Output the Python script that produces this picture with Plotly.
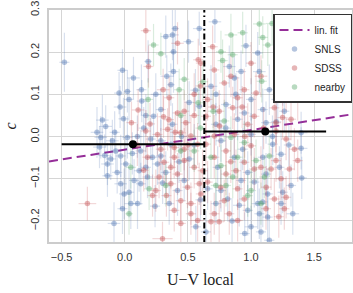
import plotly.graph_objects as go

# ---- data (x, y, x_err, y_err) ----
snls = [
    (0.325, 0.237, 0.04, 0.05), (0.378, 0.241, 0.05, 0.06), (0.40, 0.256, 0.03, 0.05),
    (0.505, 0.225, 0.04, 0.05), (0.386, 0.201, 0.03, 0.06), (0.59, 0.256, 0.05, 0.04),
    (0.185, 0.178, 0.03, 0.05), (-0.018, 0.157, 0.04, 0.05), (0.069, 0.139, 0.05, 0.05),
    (0.386, 0.154, 0.04, 0.05), (0.333, 0.143, 0.05, 0.05), (0.365, 0.123, 0.03, 0.05),
    (0.132, 0.111, 0.04, 0.06), (-0.045, 0.103, 0.04, 0.05), (0.021, 0.107, 0.03, 0.05),
    (0.034, 0.088, 0.04, 0.05), (0.246, 0.100, 0.04, 0.05), (0.135, 0.084, 0.04, 0.05),
    (-0.037, 0.070, 0.05, 0.05), (0.51, 0.081, 0.04, 0.05), (0.59, 0.072, 0.03, 0.05),
    (0.286, 0.064, 0.04, 0.05), (0.228, 0.048, 0.03, 0.05), (0.167, 0.050, 0.04, 0.05),
    (-0.177, 0.039, 0.05, 0.06), (-0.151, 0.024, 0.05, 0.05), (-0.01, 0.042, 0.04, 0.05),
    (0.378, 0.029, 0.04, 0.05), (0.714, 0.272, 0.05, 0.05), (0.96, 0.215, 0.04, 0.05),
    (1.053, 0.198, 0.04, 0.05), (0.828, 0.166, 0.05, 0.05), (0.921, 0.154, 0.04, 0.05),
    (1.066, 0.154, 0.05, 0.05), (1.238, 0.147, 0.04, 0.05), (0.868, 0.139, 0.04, 0.05),
    (0.683, 0.119, 0.05, 0.05), (1.251, 0.123, 0.04, 0.05), (1.145, 0.111, 0.04, 0.06),
    (0.722, 0.100, 0.04, 0.05), (1.0, 0.088, 0.04, 0.05), (1.212, 0.088, 0.05, 0.05),
    (0.802, 0.076, 0.04, 0.05), (1.093, 0.064, 0.04, 0.05), (0.947, 0.056, 0.04, 0.05),
    (1.264, 0.060, 0.04, 0.05), (0.894, 0.041, 0.04, 0.05), (1.119, 0.033, 0.04, 0.05),
    (0.722, 0.029, 0.04, 0.05), (-0.478, 0.176, 0.04, 0.07), (-0.098, -0.010, 0.05, 0.05),
    (-0.19, -0.002, 0.05, 0.05), (-0.071, -0.034, 0.04, 0.05), (-0.032, -0.046, 0.04, 0.05),
    (-0.137, -0.065, 0.05, 0.05), (-0.111, -0.053, 0.04, 0.05), (0.008, -0.065, 0.04, 0.06),
    (-0.137, -0.093, 0.04, 0.05), (-0.032, -0.112, 0.05, 0.06), (-0.005, -0.136, 0.04, 0.06),
    (0.034, -0.132, 0.04, 0.06), (0.074, -0.104, 0.04, 0.05), (0.127, -0.112, 0.04, 0.05),
    (0.114, -0.081, 0.04, 0.05), (0.167, -0.073, 0.04, 0.05), (0.048, -0.159, 0.05, 0.06),
    (0.101, -0.159, 0.04, 0.06), (-0.018, -0.171, 0.04, 0.06), (-0.085, -0.206, 0.05, 0.05),
    (0.18, -0.096, 0.04, 0.05), (0.22, -0.049, 0.04, 0.05), (0.259, -0.065, 0.04, 0.05),
    (0.325, -0.085, 0.04, 0.05), (0.352, -0.159, 0.04, 0.05), (0.563, -0.214, 0.04, 0.05),
    (0.418, -0.128, 0.04, 0.06), (0.365, -0.018, 0.04, 0.05), (0.206, -0.006, 0.04, 0.05),
    (0.286, -0.010, 0.04, 0.05), (0.021, -0.002, 0.04, 0.05), (0.127, -0.034, 0.04, 0.05),
    (0.286, -0.046, 0.04, 0.05), (0.471, -0.104, 0.04, 0.05), (0.51, -0.053, 0.04, 0.05),
    (1.397, -0.028, 0.05, 0.05), (1.402, -0.098, 0.04, 0.05), (1.397, 0.009, 0.05, 0.05),
    (1.172, -0.018, 0.04, 0.05), (1.093, -0.049, 0.04, 0.05), (1.119, -0.089, 0.04, 0.05),
    (1.225, -0.073, 0.04, 0.05), (1.026, -0.108, 0.04, 0.06), (1.132, -0.136, 0.04, 0.06),
    (1.053, -0.159, 0.05, 0.06), (1.093, -0.155, 0.04, 0.06), (0.907, -0.163, 0.05, 0.05),
    (0.974, -0.175, 0.04, 0.06), (1.066, -0.183, 0.04, 0.06), (1.132, -0.191, 0.04, 0.06),
    (1.0, -0.214, 0.05, 0.05), (1.079, -0.226, 0.04, 0.06), (1.145, -0.246, 0.04, 0.06),
    (1.238, -0.159, 0.04, 0.05), (1.331, -0.183, 0.05, 0.05), (1.251, -0.132, 0.04, 0.05),
    (1.317, -0.116, 0.04, 0.05), (1.238, -0.042, 0.04, 0.05), (0.762, -0.128, 0.04, 0.05),
    (0.815, -0.148, 0.04, 0.05), (0.722, -0.159, 0.04, 0.05), (0.921, -0.104, 0.04, 0.05),
    (0.974, -0.085, 0.04, 0.05), (0.868, -0.049, 0.04, 0.05), (0.934, -0.030, 0.04, 0.05),
    (0.762, -0.010, 0.04, 0.05), (0.736, -0.073, 0.04, 0.05), (0.656, -0.124, 0.04, 0.05),
    (0.643, -0.226, 0.04, 0.05), (-0.20, -0.025, 0.05, 0.05), (-0.16, -0.045, 0.05, 0.05),
    (0.45, 0.000, 0.04, 0.05), (0.55, -0.020, 0.04, 0.05), (0.80, 0.020, 0.04, 0.05),
    (1.00, 0.005, 0.04, 0.05), (1.20, 0.035, 0.04, 0.05), (0.15, 0.020, 0.04, 0.05),
    (0.30, -0.110, 0.04, 0.05), (0.60, -0.150, 0.04, 0.05), (0.85, -0.200, 0.04, 0.05),
    (0.95, -0.230, 0.04, 0.05), (-0.22, 0.010, 0.05, 0.06), (-0.06, -0.085, 0.04, 0.05),
    (0.06, -0.040, 0.04, 0.05), (0.10, 0.000, 0.04, 0.05), (-0.08, 0.010, 0.04, 0.05),
    (0.24, -0.165, 0.04, 0.05), (0.43, -0.060, 0.04, 0.05), (0.56, 0.110, 0.04, 0.05),
    (0.88, 0.100, 0.04, 0.05), (1.17, 0.000, 0.04, 0.05), (1.30, -0.020, 0.04, 0.05),
]

sdss = [
    (0.167, 0.251, 0.04, 0.05), (0.418, 0.221, 0.05, 0.05), (0.582, 0.182, 0.04, 0.05),
    (0.603, 0.174, 0.04, 0.05), (0.188, 0.166, 0.04, 0.05), (0.304, 0.111, 0.05, 0.05),
    (0.352, 0.092, 0.04, 0.05), (0.106, 0.063, 0.05, 0.05), (0.471, 0.060, 0.04, 0.05),
    (0.418, 0.056, 0.04, 0.05), (0.307, 0.047, 0.04, 0.05), (0.053, 0.033, 0.04, 0.05),
    (0.484, 0.033, 0.04, 0.05), (0.696, 0.213, 0.04, 0.05), (1.0, 0.174, 0.04, 0.05),
    (0.709, 0.158, 0.04, 0.05), (1.079, 0.143, 0.05, 0.05), (0.841, 0.143, 0.04, 0.05),
    (0.788, 0.127, 0.04, 0.05), (1.278, 0.111, 0.05, 0.05), (0.947, 0.111, 0.04, 0.05),
    (1.04, 0.103, 0.04, 0.05), (0.656, 0.088, 0.04, 0.05), (0.894, 0.092, 0.04, 0.05),
    (1.37, 0.088, 0.05, 0.05), (0.855, 0.068, 0.04, 0.05), (1.185, 0.068, 0.04, 0.05),
    (0.748, 0.060, 0.04, 0.05), (0.643, 0.048, 0.04, 0.05), (1.026, 0.048, 0.04, 0.05),
    (1.317, 0.041, 0.04, 0.05), (0.974, 0.029, 0.04, 0.05), (1.198, 0.033, 0.04, 0.05),
    (-0.296, -0.159, 0.07, 0.04), (0.299, -0.242, 0.08, 0.04), (0.577, -0.199, 0.05, 0.05),
    (0.246, -0.128, 0.04, 0.05), (0.272, -0.096, 0.04, 0.05), (0.365, -0.112, 0.04, 0.05),
    (0.444, -0.152, 0.04, 0.05), (0.524, -0.159, 0.04, 0.05), (0.497, -0.120, 0.04, 0.05),
    (0.418, -0.089, 0.04, 0.05), (0.18, -0.049, 0.04, 0.05), (0.312, -0.061, 0.04, 0.05),
    (0.392, -0.049, 0.04, 0.05), (0.471, -0.057, 0.04, 0.05), (0.55, -0.073, 0.04, 0.05),
    (0.59, -0.112, 0.04, 0.05), (0.603, -0.136, 0.04, 0.05), (0.167, 0.013, 0.04, 0.05),
    (0.259, 0.005, 0.04, 0.05), (0.339, 0.017, 0.04, 0.05), (0.444, 0.009, 0.04, 0.05),
    (0.524, 0.001, 0.04, 0.05), (0.577, -0.018, 0.04, 0.05), (0.392, -0.026, 0.04, 0.05),
    (0.286, -0.030, 0.04, 0.05), (0.471, -0.030, 0.04, 0.05), (0.365, -0.073, 0.04, 0.05),
    (0.22, -0.140, 0.04, 0.05), (0.392, -0.175, 0.04, 0.05), (0.524, -0.183, 0.04, 0.05),
    (0.444, -0.206, 0.04, 0.05), (0.748, -0.202, 0.04, 0.05), (0.828, -0.183, 0.04, 0.05),
    (0.894, -0.199, 0.04, 0.05), (0.683, -0.202, 0.04, 0.05), (0.709, -0.183, 0.04, 0.05),
    (1.264, -0.171, 0.04, 0.05), (1.185, -0.148, 0.04, 0.05), (1.278, -0.144, 0.04, 0.05),
    (0.656, -0.108, 0.04, 0.05), (0.802, -0.089, 0.04, 0.05), (0.881, -0.081, 0.04, 0.05),
    (1.026, -0.077, 0.04, 0.05), (1.159, -0.077, 0.04, 0.05), (1.304, -0.077, 0.04, 0.05),
    (1.37, -0.057, 0.04, 0.05), (1.344, -0.030, 0.04, 0.05), (1.278, -0.006, 0.04, 0.05),
    (1.198, 0.013, 0.04, 0.05), (0.868, 0.005, 0.04, 0.05), (0.709, 0.001, 0.04, 0.05),
    (1.0, -0.022, 0.04, 0.05), (0.802, -0.034, 0.04, 0.05), (0.947, -0.061, 0.04, 0.05),
    (1.079, -0.073, 0.04, 0.05), (1.238, -0.100, 0.04, 0.05), (1.198, -0.057, 0.04, 0.05),
    (0.617, -0.081, 0.04, 0.05), (0.643, -0.018, 0.04, 0.05), (0.709, -0.049, 0.04, 0.05),
    (0.894, -0.124, 0.04, 0.05), (0.788, -0.152, 0.04, 0.05), (0.947, -0.148, 0.04, 0.05),
    (1.119, -0.171, 0.04, 0.05), (0.20, 0.030, 0.04, 0.05), (0.35, 0.040, 0.04, 0.05),
    (0.55, 0.050, 0.04, 0.05), (0.75, 0.025, 0.04, 0.05), (0.95, 0.000, 0.04, 0.05),
    (1.10, 0.020, 0.04, 0.05), (1.25, 0.045, 0.04, 0.05), (0.10, -0.020, 0.04, 0.05),
    (0.15, -0.080, 0.04, 0.05), (0.60, 0.120, 0.04, 0.05), (0.55, 0.100, 0.04, 0.05),
    (0.70, 0.070, 0.04, 0.05), (0.33, -0.140, 0.04, 0.05), (0.50, -0.020, 0.04, 0.05),
    (0.84, -0.060, 0.04, 0.05), (1.12, -0.120, 0.04, 0.05), (1.22, -0.190, 0.04, 0.05),
    (0.76, -0.120, 0.04, 0.05), (0.40, 0.010, 0.04, 0.05), (0.93, 0.070, 0.04, 0.05),
]

nearby = [
    (0.228, 0.217, 0.04, 0.05), (0.286, 0.196, 0.04, 0.05), (0.471, 0.136, 0.04, 0.05),
    (0.431, 0.111, 0.04, 0.05), (0.185, 0.088, 0.04, 0.05), (0.582, 0.080, 0.04, 0.05),
    (0.444, 0.050, 0.04, 0.05), (1.066, 0.267, 0.05, 0.05), (1.167, 0.268, 0.05, 0.05),
    (0.841, 0.241, 0.05, 0.05), (0.934, 0.246, 0.04, 0.05), (1.093, 0.235, 0.04, 0.05),
    (1.133, 0.217, 0.04, 0.05), (0.762, 0.201, 0.04, 0.05), (0.855, 0.194, 0.04, 0.05),
    (0.775, 0.180, 0.04, 0.05), (1.085, 0.131, 0.04, 0.05), (0.788, 0.037, 0.04, 0.05),
    (0.444, -0.034, 0.04, 0.05), (0.048, -0.073, 0.04, 0.05), (0.325, -0.116, 0.04, 0.05),
    (0.193, -0.124, 0.04, 0.05), (0.034, -0.183, 0.03, 0.05), (0.55, -0.034, 0.04, 0.05),
    (0.855, -0.096, 0.04, 0.05), (0.802, -0.116, 0.04, 0.05), (0.722, -0.116, 0.04, 0.05),
    (1.0, -0.128, 0.04, 0.05), (1.106, -0.096, 0.04, 0.05), (1.145, -0.046, 0.04, 0.05),
    (1.04, -0.057, 0.04, 0.05), (0.762, -0.069, 0.04, 0.05), (0.841, -0.002, 0.04, 0.05),
    (0.947, -0.014, 0.04, 0.05), (0.683, -0.049, 0.04, 0.05), (0.894, -0.049, 0.04, 0.05),
    (1.079, -0.159, 0.04, 0.05), (0.974, -0.140, 0.04, 0.05), (0.60, 0.020, 0.04, 0.05),
    (0.70, 0.060, 0.04, 0.05), (0.62, 0.130, 0.04, 0.05),
]

# binned means: centre, half-width, mean c
bin_x = [0.065, 1.113]
bin_xerr = [0.565, 0.482]
bin_y = [-0.018, 0.012]

split_x = 0.63
fit_slope = 0.0465
fit_intercept = -0.031
x_range = [-0.6, 1.8]
y_range = [-0.25, 0.3]
x_ticks = [-0.5, 0.0, 0.5, 1.0, 1.5]
y_ticks = [-0.2, -0.1, 0.0, 0.1, 0.2, 0.3]

series = [
    ("SNLS", snls, (76, 114, 176)),
    ("SDSS", sdss, (196, 78, 82)),
    ("nearby", nearby, (85, 168, 104)),
]

fig = go.Figure()

fig.add_trace(go.Scatter(
    x=x_range, y=[fit_slope * v + fit_intercept for v in x_range],
    mode="lines", name="lin. fit",
    line=dict(color="#952d98", width=2, dash="9px,5px"),
))

for name, pts, (r, g, b) in series:
    xs = [p[0] for p in pts]
    ys = [p[1] for p in pts]
    exs = [p[2] for p in pts]
    eys = [p[3] for p in pts]
    fig.add_trace(go.Scatter(
        x=xs, y=ys, mode="markers", name=name,
        marker=dict(size=5.5, color=f"rgba({r},{g},{b},0.42)", line=dict(width=0)),
        error_x=dict(type="data", array=exs, color=f"rgba({r},{g},{b},0.22)", thickness=1.2, width=0),
        error_y=dict(type="data", array=eys, color=f"rgba({r},{g},{b},0.22)", thickness=1.2, width=0),
    ))

fig.add_trace(go.Scatter(
    x=[split_x, split_x], y=y_range, mode="lines", showlegend=False,
    line=dict(color="black", width=2, dash="6px,3px,1.5px,3px"),
))

fig.add_trace(go.Scatter(
    x=bin_x, y=bin_y, mode="markers", showlegend=False,
    marker=dict(size=8, color="black"),
    error_x=dict(type="data", array=bin_xerr, color="black", thickness=2, width=0),
))

axis_common = dict(
    showgrid=True, gridcolor="#d5d5d5", gridwidth=1, automargin=False,
    zeroline=False, showline=True, linecolor="#cccccc", linewidth=2, mirror=True,
    ticks="outside", ticklen=4, tickcolor="rgba(0,0,0,0)",
    tickfont=dict(family="Liberation Sans, Arial", size=11, color="#333333"),
)

fig.update_layout(
    width=353, height=293,
    margin=dict(l=49, r=1, t=10, b=51),
    plot_bgcolor="white", paper_bgcolor="white",
    xaxis=dict(range=x_range, tickvals=x_ticks, ticktext=["\u22120.5", "0.0", "0.5", "1.0", "1.5"],
               title=dict(text="U\u2212V local", font=dict(family="Liberation Serif", size=16, color="#222"), standoff=12),
               **axis_common),
    yaxis=dict(range=y_range, tickvals=y_ticks, ticktext=["\u22120.2", "\u22120.1", "0.0", "0.1", "0.2", "0.3"],
               tickangle=-90,
               title=dict(text="<i>c</i>", font=dict(family="Liberation Serif", size=16, color="#222"), standoff=8),
               **axis_common),
    legend=dict(x=1, xanchor="right", y=0.983, yanchor="top",
                bgcolor="white", bordercolor="#333333", borderwidth=1.5,
                font=dict(family="Liberation Sans, Arial", size=10, color="#222"),
                tracegroupgap=0, itemwidth=30),
    showlegend=True,
)

fig.write_html("out.html", config={"displayModeBar": False},
               post_script="document.body.style.margin='0';document.body.style.overflow='hidden';")
